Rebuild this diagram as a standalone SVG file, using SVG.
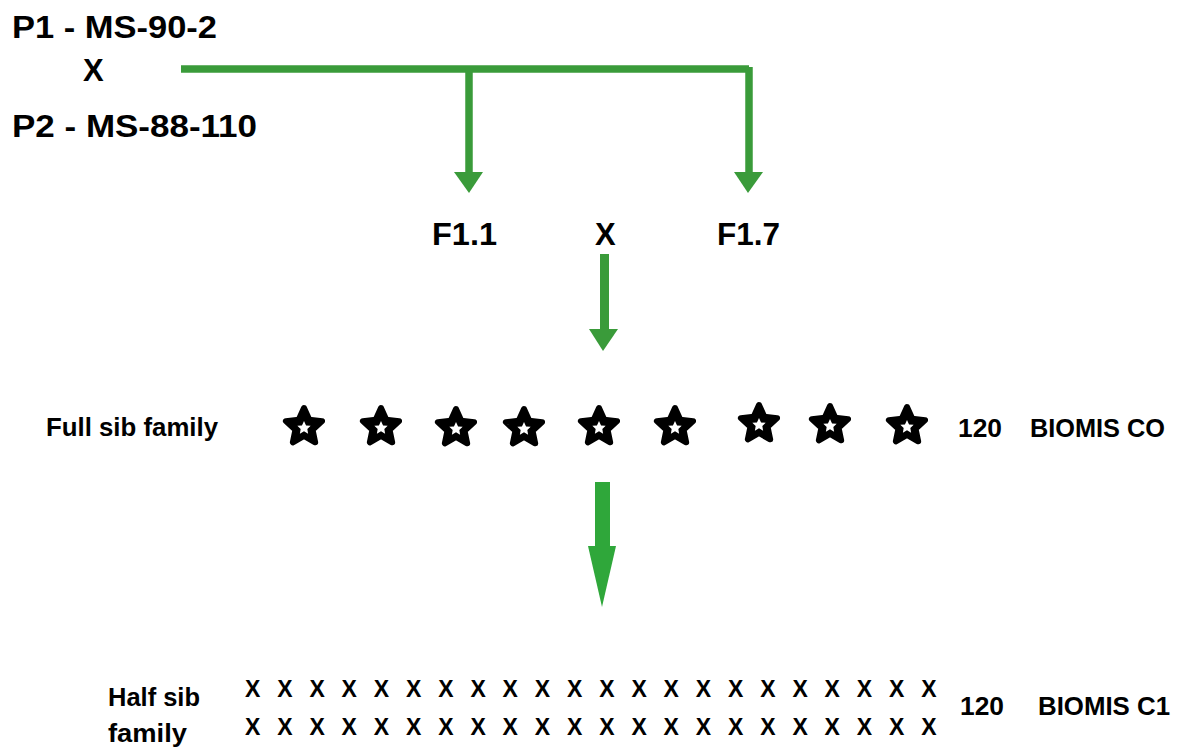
<svg xmlns="http://www.w3.org/2000/svg" xmlns:xlink="http://www.w3.org/1999/xlink" width="1178" height="751" viewBox="0 0 1178 751">
  <style>
    text { font-family: "Liberation Sans", Arial, sans-serif; font-weight: bold; fill: #000; }
    .big { font-size: 31px; }
    .mid { font-size: 25px; }
    .xs { font-size: 23px; }
    .wire { fill: none; stroke: #3a9b3a; stroke-width: 7.5; }
    .head { fill: #3a9b3a; }
    .thick { fill: #2fa73a; }
  </style>
  <defs>
    <!-- black star with a small white star cut in the middle -->
    <g id="star">
      <path d="M0,-19 L5.29,-7.28 L18.07,-5.87 L8.56,2.78 L11.17,15.37 L0,9 L-11.17,15.37 L-8.56,2.78 L-18.07,-5.87 L-5.29,-7.28 Z" fill="#000" stroke="#000" stroke-width="6" stroke-linejoin="round"/>
      <path d="M0,-6 L2.06,-1.6 L6.66,-1.16 L3.33,2.0 L4.12,6.66 L0,4.2 L-4.12,6.66 L-3.33,2.0 L-6.66,-1.16 L-2.06,-1.6 Z" fill="#fff"/>
    </g>
  </defs>

  <rect width="1178" height="751" fill="#fff"/>

  <!-- parents -->
  <g id="parents">
    <text class="big" x="12" y="38" textLength="205" lengthAdjust="spacingAndGlyphs">P1 - MS-90-2</text>
    <text class="big" x="83" y="81">X</text>
    <text class="big" x="12" y="137" textLength="245" lengthAdjust="spacingAndGlyphs">P2 - MS-88-110</text>
  </g>

  <!-- F1 generation -->
  <g id="f1-1">
    <text class="big" x="432" y="245" textLength="65" lengthAdjust="spacingAndGlyphs">F1.1</text>
  </g>
  <g id="f1-cross">
    <text class="big" x="595" y="245">X</text>
  </g>
  <g id="f1-7">
    <text class="big" x="717" y="245" textLength="63" lengthAdjust="spacingAndGlyphs">F1.7</text>
  </g>

  <!-- full sib family, cycle 0 -->
  <g id="full-sib">
    <text class="mid" x="46" y="436" textLength="172" lengthAdjust="spacingAndGlyphs">Full sib family</text>
    <use xlink:href="#star" x="304" y="427"/>
    <use xlink:href="#star" x="381" y="427"/>
    <use xlink:href="#star" x="456" y="428"/>
    <use xlink:href="#star" x="524" y="428"/>
    <use xlink:href="#star" x="599" y="427"/>
    <use xlink:href="#star" x="675" y="427"/>
    <use xlink:href="#star" x="759" y="424"/>
    <use xlink:href="#star" x="830" y="425"/>
    <use xlink:href="#star" x="907" y="426"/>
    <text class="mid" x="958" y="437" textLength="44" lengthAdjust="spacingAndGlyphs">120</text>
    <text class="mid" x="1030" y="437" textLength="135" lengthAdjust="spacingAndGlyphs">BIOMIS CO</text>
  </g>

  <!-- half sib family, cycle 1 -->
  <g id="half-sib">
    <text class="mid" x="108" y="706" textLength="92" lengthAdjust="spacingAndGlyphs">Half sib</text>
    <text class="mid" x="108" y="742" textLength="79" lengthAdjust="spacingAndGlyphs">family</text>
    <text class="xs" y="697" x="245 277.2 309.4 341.6 373.8 406 438.2 470.4 502.6 534.8 567 599.2 631.4 663.6 695.8 728 760.2 792.4 824.6 856.8 889 921.2">XXXXXXXXXXXXXXXXXXXXXX</text>
    <text class="xs" y="735" x="245 277.2 309.4 341.6 373.8 406 438.2 470.4 502.6 534.8 567 599.2 631.4 663.6 695.8 728 760.2 792.4 824.6 856.8 889 921.2">XXXXXXXXXXXXXXXXXXXXXX</text>
    <text class="mid" x="960" y="715" textLength="44" lengthAdjust="spacingAndGlyphs">120</text>
    <text class="mid" x="1038" y="715" textLength="132" lengthAdjust="spacingAndGlyphs">BIOMIS C1</text>
  </g>

  <!-- connectors -->
  <g id="connectors">
    <path class="wire" d="M181,69 H749"/>
    <path class="wire" d="M469,69 V174"/>
    <path class="wire" d="M749,67 V174"/>
    <polygon class="head" points="454,172 483,172 469,193"/>
    <polygon class="head" points="734,172 763,172 748,193"/>

    <rect class="head" x="600" y="254" width="9" height="77"/>
    <polygon class="head" points="589,329 618,329 603,351"/>

    <rect class="thick" x="595" y="482" width="15" height="66"/>
    <polygon class="thick" points="588,546 616,546 602,607"/>
  </g>
</svg>
